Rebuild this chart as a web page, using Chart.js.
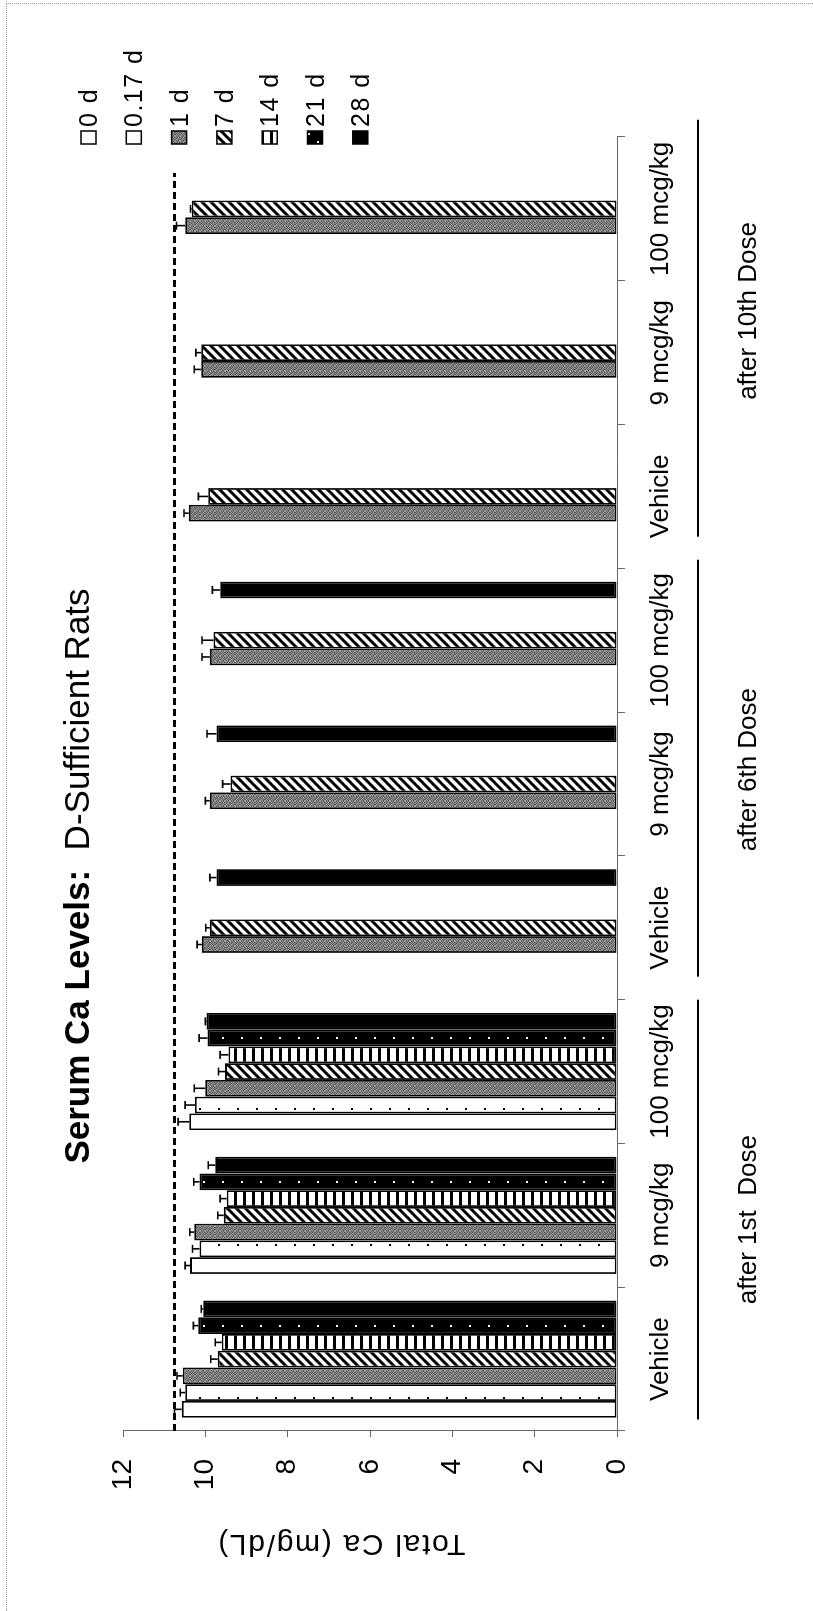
<!DOCTYPE html>
<html>
<head>
<meta charset="utf-8">
<script src="https://cdn.jsdelivr.net/npm/chart.js@4.4.1/dist/chart.umd.min.js"></script>
<style>
  html, body { margin: 0; padding: 0; background: #fff; }
  body { width: 813px; height: 1611px; overflow: hidden; position: relative; }
  #frame { position: absolute; left: 6px; top: 3px; right: 0; bottom: 0;
           border-left: 1px dotted #999; border-top: 1px dotted #999; }
  /* the chart is laid out landscape and turned a quarter turn to the left */
  #rot { position: absolute; left: 0; top: 0; width: 1611px; height: 813px;
         transform-origin: 0 0; transform: translateY(1611px) rotate(-90deg); }
</style>
</head>
<body>
<div id="frame"></div>
<div id="rot"><canvas id="chart" width="1611" height="813" style="width:1611px;height:813px"></canvas></div>
<script>
// ---- data ----
const categories = ['Vehicle', '9 mcg/kg', '100 mcg/kg', 'Vehicle', '9 mcg/kg', '100 mcg/kg', 'Vehicle', '9 mcg/kg', '100 mcg/kg'];
const groupLabels = ['after 1st  Dose', 'after 6th Dose', 'after 10th Dose'];
const seriesLabels = ['0 d', '0.17 d', '1 d', '7 d', '14 d', '21 d', '28 d'];
const yTicks = [0, 2, 4, 6, 8, 10, 12];
const refLevel = 10.75;

const day0   = [10.57, 10.37, 10.39, null, null, null, null, null, null];
const day017 = [10.49, 10.14, 10.25, null, null, null, null, null, null];
const day1   = [10.55, 10.27, 10.00, 10.08, 9.89, 9.89, 10.40, 10.10, 10.49];
const day7   = [9.70, 9.55, 9.52, 9.89, 9.39, 9.80, 9.93, 10.10, 10.33];
const day14  = [9.60, 9.48, 9.44, null, null, null, null, null, null];
const day21  = [10.17, 10.14, 9.95, null, null, null, null, null, null];
const day28  = [10.05, 9.76, 9.97, 9.73, 9.73, 9.64, null, null, null];

const err0   = [0.18, 0.12, 0.27, null, null, null, null, null, null];
const err017 = [0.12, 0.17, 0.24, null, null, null, null, null, null];
const err1   = [0.14, 0.11, 0.27, 0.12, 0.11, 0.19, 0.12, 0.17, 0.21];
const err7   = [0.17, 0.15, 0.16, 0.10, 0.19, 0.28, 0.24, 0.13, 0.03];
const err14  = [0.16, 0.16, 0.20, null, null, null, null, null, null];
const err21  = [0.12, 0.14, 0.20, null, null, null, null, null, null];
const err28  = [0.05, 0.17, 0.03, 0.16, 0.23, 0.19, null, null, null];

const FONT = 'Liberation Sans, Arial, sans-serif';
Chart.defaults.font.family = FONT;
Chart.defaults.color = '#000';

// ---- fill patterns ----
function makePattern(w, h, draw) {
  const c = document.createElement('canvas');
  c.width = w; c.height = h;
  const g = c.getContext('2d');
  draw(g, w, h);
  return g.createPattern(c, 'repeat');
}
const whiteDots = makePattern(17, 19, (g, w, h) => {
  g.fillStyle = '#fff'; g.fillRect(0, 0, w, h);
  g.fillStyle = '#000'; g.fillRect(8, 9, 2, 2);
});
const speckle = makePattern(5, 5, g => {
  const shades = [
    [150, 88, 136, 104, 160],
    [112, 168, 80, 144, 96],
    [144, 104, 152, 88, 128],
    [80, 136, 112, 168, 104],
    [160, 96, 128, 80, 144]
  ];
  shades.forEach((row, r) => row.forEach((s, c) => {
    g.fillStyle = `rgb(${s},${s},${s})`; g.fillRect(c, r, 1, 1);
  }));
});
const hatch = makePattern(9, 9, (g, w, h) => {
  g.fillStyle = '#fff'; g.fillRect(0, 0, w, h);
  g.strokeStyle = '#000'; g.lineWidth = 3;
  g.beginPath();
  g.moveTo(0, h); g.lineTo(w, 0);
  g.moveTo(-2, 2); g.lineTo(2, -2);
  g.moveTo(w - 2, h + 2); g.lineTo(w + 2, h - 2);
  g.stroke();
});
const stripes = makePattern(4, 9, (g, w, h) => {
  g.fillStyle = '#fff'; g.fillRect(0, 0, w, h);
  g.fillStyle = '#000'; g.fillRect(0, 0, w, 3);
});
const darkDots = makePattern(16, 19, (g, w, h) => {
  g.fillStyle = '#000'; g.fillRect(0, 0, w, h);
  g.fillStyle = '#fff'; g.fillRect(4, 4, 2, 2); g.fillRect(12, 13, 2, 2);
});
const fills = ['#fff', whiteDots, speckle, hatch, stripes, darkDots, '#000'];

const values = [day0, day017, day1, day7, day14, day21, day28];
const errors = [err0, err017, err1, err7, err14, err21, err28];

const datasets = seriesLabels.map((label, i) => ({
  label: label,
  data: values[i],
  errors: errors[i],
  backgroundColor: fills[i],
  borderColor: '#000',
  borderWidth: 1.8,
  borderSkipped: false,
  barPercentage: 1,
  categoryPercentage: 0.815
}));

// ---- error bars (upper side only) ----
const errorBars = {
  id: 'errorBars',
  afterDatasetsDraw(chart) {
    const ctx = chart.ctx, y = chart.scales.y;
    ctx.save();
    ctx.strokeStyle = '#000';
    ctx.lineWidth = 1.6;
    chart.data.datasets.forEach((ds, i) => {
      chart.getDatasetMeta(i).data.forEach((bar, j) => {
        const v = ds.data[j], e = ds.errors[j];
        if (v == null || e == null) return;
        const yEnd = y.getPixelForValue(v + e);
        ctx.beginPath();
        ctx.moveTo(bar.x, bar.y); ctx.lineTo(bar.x, yEnd);
        ctx.moveTo(bar.x - 4, yEnd); ctx.lineTo(bar.x + 4, yEnd);
        ctx.stroke();
      });
    });
    ctx.restore();
  }
};

// ---- title, reference line, group labels, axis title, legend ----
const decorations = {
  id: 'decorations',
  afterDraw(chart) {
    const ctx = chart.ctx, x = chart.scales.x, y = chart.scales.y;
    const step = x.getPixelForValue(1) - x.getPixelForValue(0);
    const at = idx => x.getPixelForValue(0) + idx * step;

    ctx.save();
    // dashed reference level
    ctx.strokeStyle = '#000';
    ctx.lineWidth = 3;
    ctx.setLineDash([7, 4]);
    const yr = y.getPixelForValue(refLevel);
    ctx.beginPath();
    ctx.moveTo(at(-0.5), yr); ctx.lineTo(at(8.25), yr);
    ctx.stroke();
    ctx.setLineDash([]);

    // dose group rules and labels
    const spans = [[-0.42, 2.5], [2.66, 5.56], [5.72, 8.62]];
    const labelAt = [0.97, 4.1, 7.29];
    ctx.lineWidth = 2;
    ctx.fillStyle = '#000';
    ctx.font = '26px ' + FONT;
    ctx.textAlign = 'center';
    ctx.textBaseline = 'alphabetic';
    groupLabels.forEach((lab, i) => {
      ctx.beginPath();
      ctx.moveTo(at(spans[i][0]), 698); ctx.lineTo(at(spans[i][1]), 698);
      ctx.stroke();
      ctx.fillText(lab, at(labelAt[i]), 756);
    });

    // chart title, bold lead-in then regular text
    const t1 = 'Serum Ca Levels:', t2 = '  D-Sufficient Rats';
    ctx.textAlign = 'left';
    ctx.font = 'bold 35px ' + FONT;
    const w1 = ctx.measureText(t1).width;
    ctx.font = '35px ' + FONT;
    const w2 = ctx.measureText(t2).width;
    const tx = 735 - (w1 + w2) / 2;
    ctx.font = 'bold 35px ' + FONT;
    ctx.fillText(t1, tx, 89);
    ctx.font = '35px ' + FONT;
    ctx.fillText(t2, tx + w1, 89);

    // value axis title
    ctx.save();
    ctx.translate(76, 341);
    ctx.rotate(-Math.PI / 2);
    ctx.font = '30px ' + FONT;
    ctx.letterSpacing = '1.7px';
    ctx.textAlign = 'center';
    ctx.fillText('Total Ca (mg/dL)', 0, 0);
    ctx.restore();

    // legend
    ctx.font = '25px ' + FONT;
    ctx.letterSpacing = '1.5px';
    ctx.textAlign = 'left';
    seriesLabels.forEach((lab, i) => {
      const base = 97 + i * 45.3;
      ctx.fillStyle = fills[i];
      ctx.fillRect(1467, base - 16, 13, 15);
      ctx.strokeStyle = '#000';
      ctx.lineWidth = 1.5;
      ctx.strokeRect(1467, base - 16, 13, 15);
      ctx.fillStyle = '#000';
      ctx.fillText(lab, 1484, base);
    });
    ctx.restore();
  }
};

new Chart(document.getElementById('chart'), {
  type: 'bar',
  data: { labels: categories, datasets: datasets },
  options: {
    responsive: false,
    animation: false,
    devicePixelRatio: 1,
    layout: { padding: { top: 123, right: 137, bottom: 0, left: 0 } },
    plugins: {
      legend: { display: false },
      title: { display: false },
      tooltip: { enabled: false }
    },
    scales: {
      x: {
        afterFit: s => { s.height = 196; },
        border: { display: true, color: '#666', width: 1, dash: [2, 2] },
        grid: { display: true, drawOnChartArea: false, drawTicks: true, tickLength: 8, color: '#666' },
        ticks: { font: { size: 26 }, padding: 20, maxRotation: 0, autoSkip: false, color: '#000' }
      },
      y: {
        min: 0,
        max: 12,
        afterFit: s => { s.width = 180; },
        afterBuildTicks: s => { s.ticks = yTicks.map(v => ({ value: v })); },
        border: { display: true, color: '#666', width: 1, dash: [2, 2] },
        grid: { display: true, drawOnChartArea: false, drawTicks: true, tickLength: 6, color: '#666' },
        ticks: { font: { size: 28 }, padding: 22, color: '#000' }
      }
    }
  },
  plugins: [errorBars, decorations]
});
</script>
</body>
</html>
